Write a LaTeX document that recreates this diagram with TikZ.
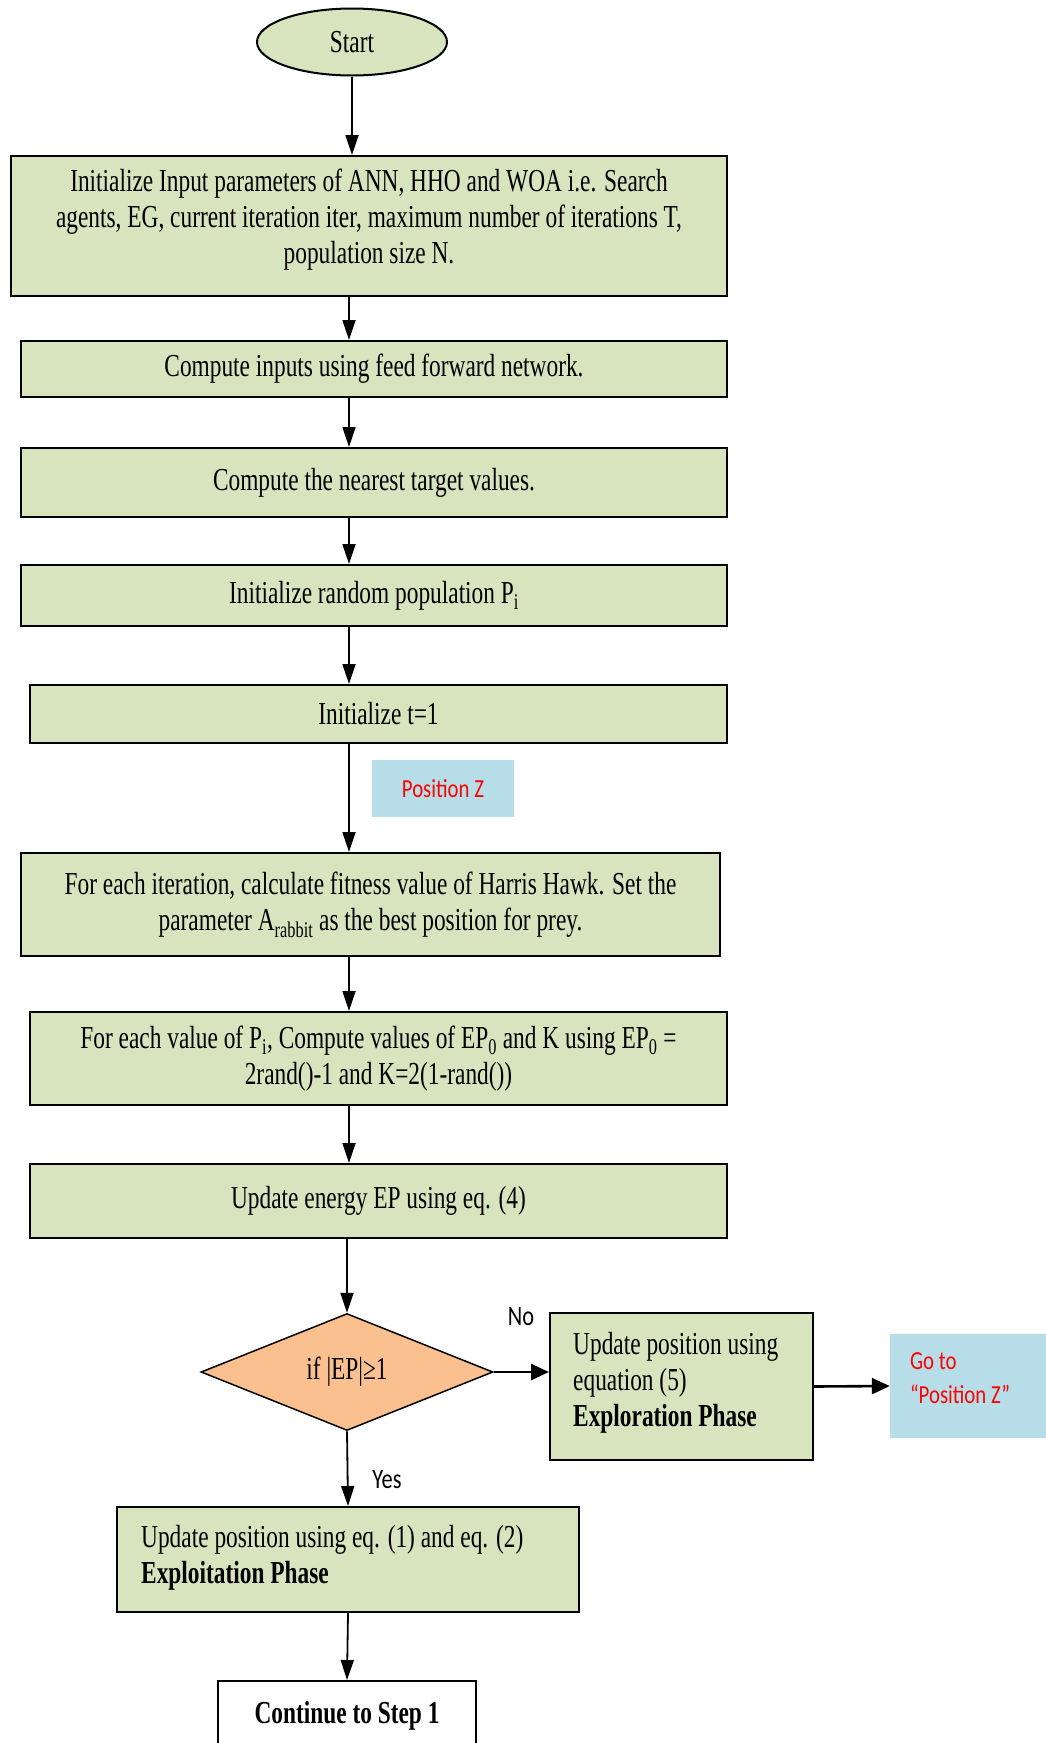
\documentclass[tikz,border=0pt]{standalone}
\usepackage{fontspec}
\setmainfont{Liberation Serif}[FakeStretch=0.73]
\newfontfamily\labfont{Carlito}[FakeStretch=0.8]
\usetikzlibrary{shapes.geometric,arrows.meta}
\definecolor{boxgreen}{HTML}{D7E4BD}
\definecolor{decorange}{HTML}{FAC090}
\definecolor{noteblue}{HTML}{B7DEE8}
\begin{document}
\begin{tikzpicture}[x=1pt,y=-1pt,
  font=\fontsize{32}{36}\selectfont,
  procbox/.style={draw=black, line width=2pt, fill=boxgreen, rectangle, inner sep=0pt, align=center},
  lefttext/.style={align=left, inner sep=0pt, anchor=west},
  arr/.style={line width=1.8pt, -{Triangle[length=20pt,width=13pt]}},
  harr/.style={line width=2.6pt, -{Triangle[length=18pt,width=16pt]}},
  note/.style={fill=noteblue, inner sep=0pt},
  notetext/.style={font=\labfont\fontsize{26}{34}\selectfont, text=red, align=left, inner sep=0pt},
  lab/.style={font=\labfont\fontsize{28}{30}\selectfont, inner sep=0pt}
]
\useasboundingbox (0,0) rectangle (1045,1743);
\coordinate (ax) at (349,0);

\node[procbox, ellipse, minimum width=190pt, minimum height=67pt] (start) at (352,42) {Start};
\node[procbox, minimum width=716pt, minimum height=140pt] (b1) at (369,226) {};
\node[align=center, inner sep=0pt] (b1txt) at (369,220)
  {Initialize Input parameters of ANN, HHO and WOA i.e. Search\\agents, EG, current iteration iter, maximum number of iterations T,\\population size N.};
\node[procbox, minimum width=706pt, minimum height=56pt] (b2) at (374,369) {Compute inputs using feed forward network.};
\node[procbox, minimum width=706pt, minimum height=69pt] (b3) at (374,482.5) {Compute the nearest target values.};
\node[procbox, minimum width=706pt, minimum height=61pt] (b4) at (374,595.5) {Initialize random population P\textsubscript{i}};
\node[procbox, minimum width=697pt, minimum height=58pt] (b5) at (378.5,714) {Initialize t=1};
\node[note, minimum width=142pt, minimum height=57pt] (posz) at (443,788.5) {};
\node[notetext] (posztxt) at (posz) {Position Z};
\node[procbox, minimum width=699pt, minimum height=103pt] (b6) at (370.5,904.5)
  {For each iteration, calculate fitness value of Harris Hawk. Set the\\parameter A\textsubscript{rabbit} as the best position for prey.};
\node[procbox, minimum width=697pt, minimum height=93pt] (b7) at (378.5,1058.5)
  {For each value of P\textsubscript{i}, Compute values of EP\textsubscript{0} and K using EP\textsubscript{0} =\\2rand()-1 and K=2(1-rand())};
\node[procbox, minimum width=697pt, minimum height=74pt] (b8) at (378.5,1201) {Update energy EP using eq. (4)};
\node[diamond, draw=black, line width=1.5pt, fill=decorange, minimum width=292pt, minimum height=117pt, inner sep=0pt] (dec) at (347,1372) {if |EP|≥1};
\node[procbox, minimum width=263pt, minimum height=147pt] (explor) at (681.5,1386.5) {};
\node[lefttext] (explortxt) at (573,1383)
  {Update position using\\equation (5)\\\textbf{Exploration Phase}};
\node[note, minimum width=175pt, minimum height=104pt] (goto) at (977.5,1386) {};
\node[notetext, anchor=west] (gototxt) at ([xshift=20pt,yshift=8pt]goto.west) {Go to\\“Position Z”};
\node[procbox, minimum width=462pt, minimum height=105pt] (exploit) at (348,1559.5) {};
\node[lefttext] (exploittxt) at (141,1558)
  {Update position using eq. (1) and eq. (2)\\\textbf{Exploitation Phase}};
\node[draw=black, line width=2pt, fill=white, minimum width=258pt, minimum height=70pt, inner sep=0pt, font=\fontsize{32}{36}\selectfont\bfseries] (cont) at (347,1716) {Continue to Step 1};

\node[lab] (no) at (521,1317) {No};
\node[lab] (yes) at (387,1480) {Yes};

\draw[arr] (start.south) -- (start.south |- b1.north);
\draw[arr] (b1.south -| ax) -- (b2.north -| ax);
\draw[arr] (b2.south -| ax) -- (b3.north -| ax);
\draw[arr] (b3.south -| ax) -- (b4.north -| ax);
\draw[arr] (b4.south -| ax) -- (b5.north -| ax);
\draw[arr] (b5.south -| ax) -- (b6.north -| ax);
\draw[arr] (b6.south -| ax) -- (b7.north -| ax);
\draw[arr] (b7.south -| ax) -- (b8.north -| ax);
\draw[arr] (b8.south -| dec.north) -- (dec.north);
\draw[arr] (dec.south) -- (exploit.north);
\draw[arr] (exploit.south) -- (cont.north);
\draw[harr] (dec.east) -- (explor.west |- dec.east);
\draw[harr] (explor.east) -- (goto.west);
\end{tikzpicture}
\end{document}
